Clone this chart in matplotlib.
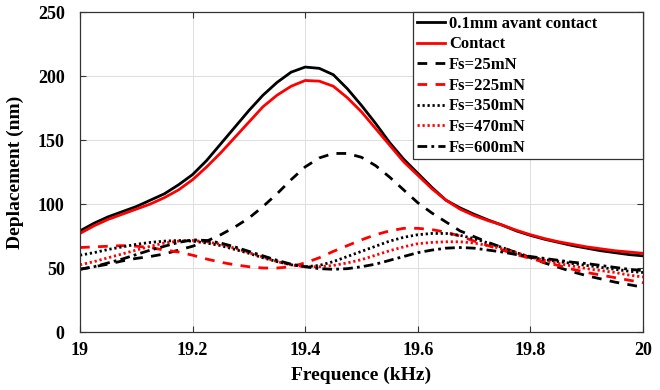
import numpy as np
import matplotlib
matplotlib.use("Agg")
import matplotlib.pyplot as plt

plt.rcParams['font.family'] = ['Liberation Serif', 'DejaVu Serif']
plt.rcParams['font.weight'] = 'bold'

freq = [19.000, 19.025, 19.050, 19.075, 19.100, 19.125, 19.150, 19.175, 19.200, 19.225,
        19.250, 19.275, 19.300, 19.325, 19.350, 19.375, 19.400, 19.425, 19.450, 19.475,
        19.500, 19.525, 19.550, 19.575, 19.600, 19.625, 19.650, 19.675, 19.700, 19.725,
        19.750, 19.775, 19.800, 19.825, 19.850, 19.875, 19.900, 19.925, 19.950, 19.975, 20.000]

avant = [79, 85, 90, 94, 98, 103, 108, 115, 123, 134,
         147, 160, 173, 185, 195, 203, 207, 206, 201, 190,
         177, 163, 148, 135, 124, 113, 103, 97, 92, 87.5,
         83.5, 79, 75.5, 72.5, 70, 67.5, 65.5, 63.5, 62, 60.5, 59.5]

contact = [77, 83, 88, 92, 96, 100, 105, 111, 119, 129,
           140, 152, 164, 176, 185, 192, 196.5, 196, 192, 183,
           172, 159, 146, 133, 122.5, 112, 103, 96, 91, 87,
           83.5, 79.5, 76, 73, 70.5, 68.5, 66.5, 65, 63.5, 62.5, 61.5]

fs25 = [49, 51, 53, 55.5, 57.5, 59, 61, 64, 67, 71,
        76, 82, 89, 98, 108, 119, 129, 136, 139.5, 139.5,
        136.5, 130, 121, 111, 101, 93, 86, 79, 74.5, 70,
        66, 62, 58, 54, 50.5, 47, 44, 41.5, 39, 37, 35]

fs225 = [66, 66.5, 67, 67.5, 67, 66, 64, 62.5, 60, 57,
         54.5, 52.5, 51, 50, 50, 51, 54, 58, 63, 67.5,
         72, 76, 79, 81, 81, 80, 78, 75, 71, 67.5,
         64, 60.5, 57.5, 54.5, 52, 49, 46.5, 44.5, 42.5, 40.5, 38.5]

fs350 = [60, 62, 64.5, 66.5, 68.5, 70, 71, 71.5, 71, 69.5,
         67.5, 64.5, 61.5, 58, 55, 52.5, 51, 52, 55, 59,
         63, 67, 71, 74, 76, 77, 77, 75.5, 73, 69.5,
         66, 62, 58.5, 56.5, 55, 53.5, 52, 50.5, 49, 47.5, 46.5]

fs470 = [52.5, 55, 58, 61, 64, 67, 69.5, 71, 71.5, 70.5,
         68.5, 65.5, 62, 58.5, 55, 52.5, 51, 51, 52, 54,
         56.5, 60, 63.5, 66.5, 69, 70, 70.5, 70.5, 69.5, 67.5,
         65, 62, 58.5, 56, 53.5, 51.5, 49.5, 48, 46.5, 44.5, 43]

fs600 = [49, 51, 54, 57, 60.5, 64, 67, 70, 72, 71.5,
         69.5, 66.5, 63, 59.5, 56, 53, 51, 49.5, 49, 49.5,
         51, 53, 56, 59, 62, 64, 65.5, 66, 65.5, 64,
         62.5, 60.5, 59, 57.5, 56, 54.5, 53.5, 52, 50.5, 49, 48]

labels = ['0.1mm avant contact', 'Contact', 'Fs=25mN', 'Fs=225mN',
          'Fs=350mN', 'Fs=470mN', 'Fs=600mN']
xticks = [19, 19.2, 19.4, 19.6, 19.8, 20]
xticklabels = ['19', '19.2', '19.4', '19.6', '19.8', '20']
yticks = [0, 50, 100, 150, 200, 250]

fig = plt.figure(figsize=(6.6, 3.9), dpi=100)
ax = fig.add_axes([0.1212, 0.1487, 0.8530, 0.8205])

series = [avant, contact, fs25, fs225, fs350, fs470, fs600]
styles = [
    dict(color='black', linestyle='-', lw=2.0),
    dict(color='#ff0000', linestyle='-', lw=2.0),
    dict(color='black', linestyle=(0, (3.5, 3.0)), lw=2.0),
    dict(color='#ff0000', linestyle=(0, (3.5, 3.0)), lw=2.0),
    dict(color='black', linestyle=(0, (0.8, 1.0)), lw=2.0),
    dict(color='#ff0000', linestyle=(0, (0.8, 1.0)), lw=2.0),
    dict(color='black', linestyle=(0, (3.5, 1.5, 1.0, 1.5)), lw=2.0),
]
for y, st, lab in zip(series, styles, labels):
    ax.plot(freq, y, label=lab, **st)

ax.set_xlim(19, 20)
ax.set_ylim(0, 250)
ax.set_xticks(xticks)
ax.set_xticklabels(xticklabels)
ax.set_yticks(yticks)
ax.grid(True, color='#dddddd', lw=0.7)
ax.set_axisbelow(True)
ax.tick_params(direction='in', top=True, right=True, length=4, width=0.8,
               labelsize=13, color='#333333')
ax.tick_params(axis='x', pad=7)
ax.tick_params(axis='y', pad=11)
for lab in ax.get_xticklabels() + ax.get_yticklabels():
    lab.set_fontweight('bold')
for sp in ax.spines.values():
    sp.set_color('#333333')
    sp.set_linewidth(0.9)

ax.set_xlabel('Frequence (kHz)', fontsize=14, fontweight='bold', labelpad=6)
ax.set_ylabel('Deplacement (nm)', fontsize=14, fontweight='bold', labelpad=10)

x0 = 0.5915
leg = ax.legend(loc='upper right', bbox_to_anchor=(x0, 0.0, 1.0 - x0, 1.0),
                mode='expand', prop={'weight': 'bold', 'size': 12},
                frameon=True, fancybox=False, borderaxespad=0.0,
                handlelength=1.7, handletextpad=0.25, borderpad=0.22,
                labelspacing=0.28)
leg.get_frame().set_edgecolor('#333333')
leg.get_frame().set_linewidth(0.9)
leg.get_frame().set_alpha(1)

fig.savefig('out.png', dpi=100)
